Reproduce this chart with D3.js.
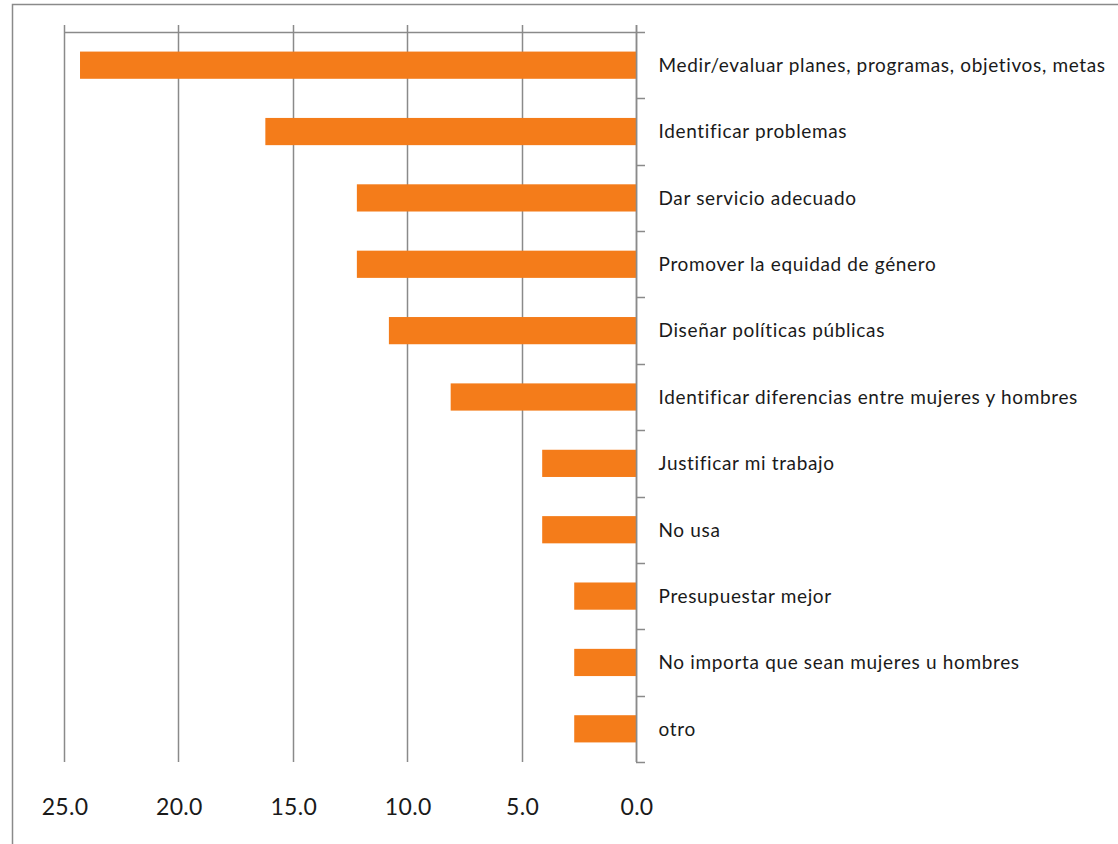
<!DOCTYPE html>
<html>
<head>
<meta charset="utf-8">
<script src="https://cdn.jsdelivr.net/npm/d3@7"></script>
<style>
  html, body { margin: 0; padding: 0; background: #fff; }
  svg { display: block; }
</style>
</head>
<body>
<svg id="chart" width="1118" height="844"></svg>
<script>
// Usos de la información: porcentaje de respuestas
const categories = [
  "Medir/evaluar planes, programas, objetivos, metas",
  "Identificar problemas",
  "Dar servicio adecuado",
  "Promover la equidad de género",
  "Diseñar políticas públicas",
  "Identificar diferencias entre mujeres y hombres",
  "Justificar mi trabajo",
  "No usa",
  "Presupuestar mejor",
  "No importa que sean mujeres u hombres",
  "otro"
];
const values = [24.3, 16.2, 12.2, 12.2, 10.8, 8.1, 4.1, 4.1, 2.7, 2.7, 2.7];
const tickValues = [25, 20, 15, 10, 5, 0];

const svg = d3.select("#chart");
const gridColor = "#8a8a8a";
const barColor = "#F47C1A";
const font = "Lato, 'Open Sans', sans-serif";

// Plot area: value axis runs right-to-left, zero at the right edge
const plotLeft = 64, plotRight = 636, plotTop = 32, plotBottom = 762;

const x = d3.scaleLinear().domain([0, 25]).range([plotRight, plotLeft]);
const y = d3.scaleBand()
  .domain(categories)
  .range([plotTop, plotBottom])
  .paddingInner(0.59)
  .paddingOuter(0.295);

// Chart frame
svg.append("rect")
  .attr("x", 12.5).attr("y", 4.5)
  .attr("width", 1300).attr("height", 1000)
  .attr("fill", "none")
  .attr("stroke", gridColor)
  .attr("stroke-width", 1.5);

// Vertical gridlines (extend above the top value axis as tick marks)
svg.append("g")
  .selectAll("line")
  .data(tickValues)
  .join("line")
  .attr("x1", d => Math.round(x(d)) + 0.5)
  .attr("x2", d => Math.round(x(d)) + 0.5)
  .attr("y1", plotTop - 7)
  .attr("y2", plotBottom)
  .attr("stroke", gridColor)
  .attr("stroke-width", 1.5);

// Top value axis line
svg.append("line")
  .attr("x1", x(25)).attr("x2", x(0))
  .attr("y1", plotTop + 0.5).attr("y2", plotTop + 0.5)
  .attr("stroke", gridColor)
  .attr("stroke-width", 1.5);

// Bars
svg.append("g")
  .selectAll("rect")
  .data(categories.map((c, i) => ({ c, v: values[i] })))
  .join("rect")
  .attr("x", d => x(d.v))
  .attr("y", d => y(d.c))
  .attr("width", d => x(0) - x(d.v))
  .attr("height", y.bandwidth())
  .attr("fill", barColor);

// Category axis on the right side of the plot
const catAxis = d3.axisRight(y).tickSize(0).tickPadding(22);
const catG = svg.append("g")
  .attr("transform", `translate(${Math.round(x(0)) + 0.5},0)`)
  .call(catAxis);
catG.select(".domain")
  .attr("d", `M0,${plotTop - 7}V${plotBottom}`)
  .attr("stroke", gridColor)
  .attr("stroke-width", 1.5);
catG.selectAll("text")
  .attr("font-family", font)
  .attr("font-size", 19)
  .attr("letter-spacing", 0.65)
  .attr("fill", "#1a1a1a")
  .attr("dy", "0.36em");

// Tick marks between categories
const boundaries = d3.range(categories.length + 1).map(i => plotTop + i * y.step());
svg.append("g")
  .selectAll("line")
  .data(boundaries)
  .join("line")
  .attr("x1", Math.round(x(0)))
  .attr("x2", Math.round(x(0)) + 9)
  .attr("y1", d => Math.round(d) + 0.5)
  .attr("y2", d => Math.round(d) + 0.5)
  .attr("stroke", gridColor)
  .attr("stroke-width", 1.5);

// Value labels below the plot
const valAxis = d3.axisBottom(x).tickValues(tickValues).tickSize(0).tickPadding(0)
  .tickFormat(d3.format(".1f"));
const valG = svg.append("g")
  .attr("transform", `translate(0.5,${plotBottom + 45})`)
  .call(valAxis);
valG.select(".domain").remove();
valG.selectAll("text")
  .attr("font-family", font)
  .attr("font-size", 23)
  .attr("letter-spacing", 0.3)
  .attr("fill", "#1a1a1a")
  .attr("dy", "0.36em");
</script>
</body>
</html>
